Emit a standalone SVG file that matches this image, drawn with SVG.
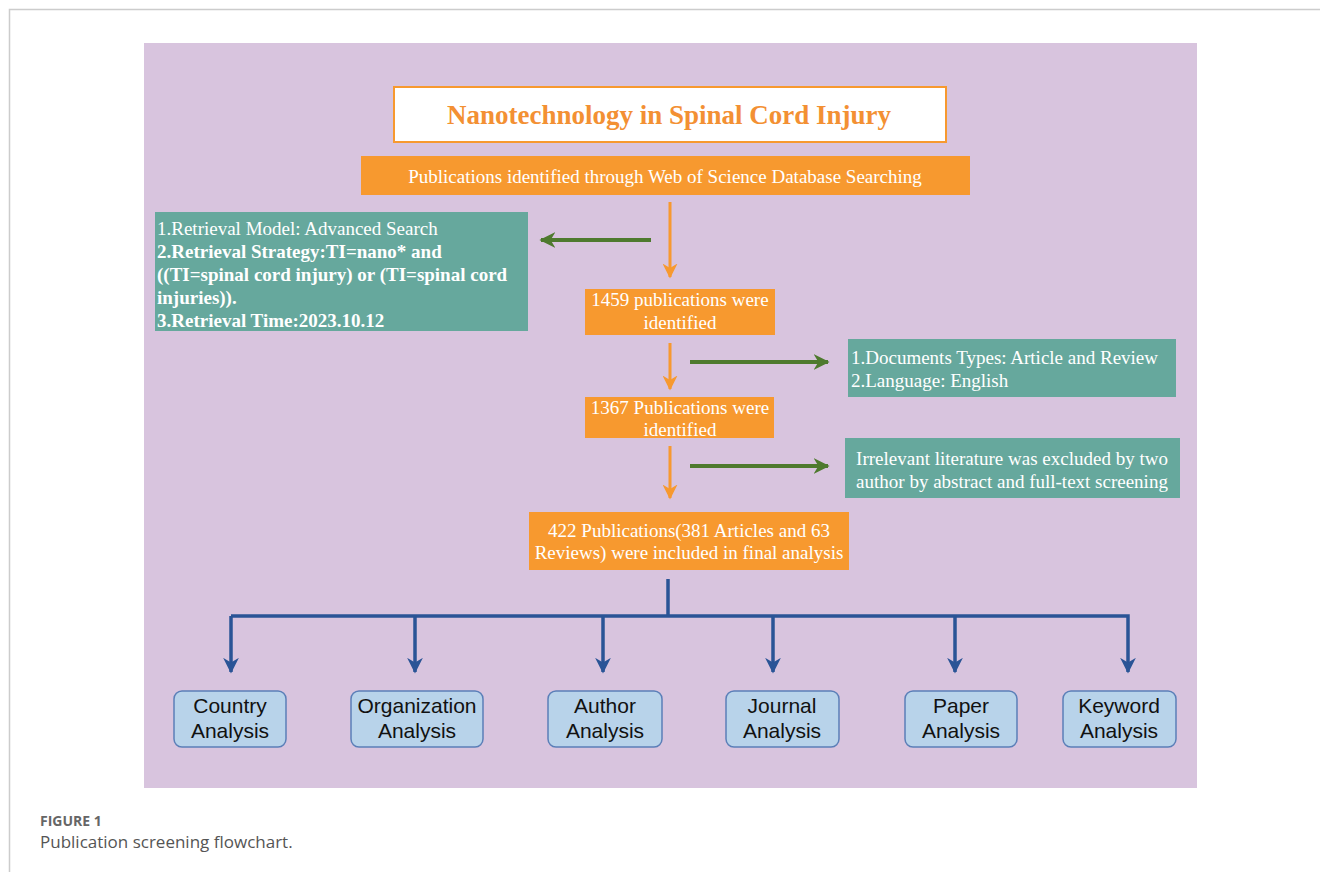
<svg xmlns="http://www.w3.org/2000/svg" width="1320" height="872" viewBox="0 0 1320 872">
<defs>
<style>
.ser{font-family:"Liberation Serif","Times New Roman",serif}
.wt{fill:#ffffff;font-size:19px}
.ob{fill:#f7992f}
.tb{fill:#66a89d}
.an{fill:#b8d3ea;stroke:#5b7fb8;stroke-width:1.5}
.at{font-family:"Liberation Sans",Arial,sans-serif;font-size:21px;fill:#111;text-anchor:middle}
.oa{stroke:#f7992f;stroke-width:3;fill:none}
.ga{stroke:#4e7a2e;stroke-width:4;fill:none}
.ba{stroke:#2a5496;stroke-width:3.5;fill:none}
</style>
<marker id="mo" viewBox="0 0 10 10" refX="9" refY="5" markerWidth="5" markerHeight="5" orient="auto" markerUnits="strokeWidth"><path d="M0,0 L10,5 L0,10 L3,5 z" fill="#f7992f"/></marker>
<marker id="mg" viewBox="0 0 10 10" refX="9" refY="5" markerWidth="4" markerHeight="4" orient="auto" markerUnits="strokeWidth"><path d="M0,0 L10,5 L0,10 L3,5 z" fill="#4e7a2e"/></marker>
<marker id="mb" viewBox="0 0 10 10" refX="9" refY="5" markerWidth="4.5" markerHeight="4.5" orient="auto" markerUnits="strokeWidth"><path d="M0,0 L10,5 L0,10 L3,5 z" fill="#2a5496"/></marker>
</defs>
<rect x="0" y="0" width="1320" height="872" fill="#ffffff"/>
<path d="M9.5,872 V9.5 H1320" fill="none" stroke="#cccccc" stroke-width="1.5"/>
<rect x="144" y="43" width="1053" height="745" fill="#d8c4de"/>

<g id="title">
<rect x="394" y="87" width="552" height="55" fill="#ffffff" stroke="#f7992f" stroke-width="2"/>
<text x="669" y="124" class="ser" font-size="27" font-weight="bold" fill="#f39033" text-anchor="middle">Nanotechnology in Spinal Cord Injury</text>
</g>
<g id="search">
<rect x="361" y="156" width="609" height="39" class="ob"/>
<text x="665" y="183" class="ser wt" text-anchor="middle">Publications identified through Web of Science Database Searching</text>
</g>
<g id="retrieval">
<rect x="155" y="212" width="373" height="119" class="tb"/>
<text class="ser wt" x="157" y="235">1.Retrieval Model: Advanced Search</text>
<text class="ser wt" x="157" y="258" font-weight="bold">2.Retrieval Strategy:TI=nano* and</text>
<text class="ser wt" x="157" y="281" font-weight="bold">((TI=spinal cord injury) or (TI=spinal cord</text>
<text class="ser wt" x="157" y="304" font-weight="bold">injuries)).</text>
<text class="ser wt" x="157" y="327" font-weight="bold">3.Retrieval Time:2023.10.12</text>
</g>
<g id="n1459">
<rect x="585" y="289" width="190" height="46" class="ob"/>
<text class="ser wt" x="680" y="306" text-anchor="middle">1459 publications were</text>
<text class="ser wt" x="680" y="329" text-anchor="middle">identified</text>
</g>
<g id="filter1">
<rect x="848" y="339" width="328" height="58" class="tb"/>
<text class="ser wt" x="851" y="364">1.Documents Types: Article and Review</text>
<text class="ser wt" x="851" y="387">2.Language: English</text>
</g>
<g id="n1367">
<rect x="585" y="397" width="189" height="41" class="ob"/>
<text class="ser wt" x="680" y="414" text-anchor="middle">1367 Publications were</text>
<text class="ser wt" x="680" y="436" text-anchor="middle">identified</text>
</g>
<g id="filter2">
<rect x="845" y="438" width="335" height="60" class="tb"/>
<text class="ser wt" x="1012" y="465" text-anchor="middle">Irrelevant literature was excluded by two</text>
<text class="ser wt" x="1012" y="488" text-anchor="middle">author by abstract and full-text screening</text>
</g>
<g id="final">
<rect x="529" y="512" width="320" height="58" class="ob"/>
<text class="ser wt" x="689" y="537" text-anchor="middle">422 Publications(381 Articles and 63</text>
<text class="ser wt" x="689" y="559" text-anchor="middle">Reviews) were included in final analysis</text>
</g>

<g id="connectors">
<line x1="670" y1="202" x2="670" y2="277" class="oa" marker-end="url(#mo)"/>
<line x1="651" y1="240" x2="541" y2="240" class="ga" marker-end="url(#mg)"/>
<line x1="670" y1="343" x2="670" y2="389" class="oa" marker-end="url(#mo)"/>
<line x1="690" y1="362" x2="828" y2="362" class="ga" marker-end="url(#mg)"/>
<line x1="670" y1="446" x2="670" y2="498" class="oa" marker-end="url(#mo)"/>
<line x1="690" y1="466" x2="828" y2="466" class="ga" marker-end="url(#mg)"/>
<line x1="668" y1="579" x2="668" y2="616" class="ba"/>
<path d="M231,616 H1128 V672" class="ba" marker-end="url(#mb)"/>
<path d="M231,616 V672" class="ba" marker-end="url(#mb)"/>
<path d="M415,616 V672" class="ba" marker-end="url(#mb)"/>
<path d="M603,616 V672" class="ba" marker-end="url(#mb)"/>
<path d="M773,616 V672" class="ba" marker-end="url(#mb)"/>
<path d="M955,616 V672" class="ba" marker-end="url(#mb)"/>
</g>

<g id="country"><rect x="174" y="691" width="112" height="56" rx="8" class="an"/><text class="at" x="230" y="713">Country</text><text class="at" x="230" y="738">Analysis</text></g>
<g id="organization"><rect x="351" y="691" width="132" height="56" rx="8" class="an"/><text class="at" x="417" y="713">Organization</text><text class="at" x="417" y="738">Analysis</text></g>
<g id="author"><rect x="548" y="691" width="114" height="56" rx="8" class="an"/><text class="at" x="605" y="713">Author</text><text class="at" x="605" y="738">Analysis</text></g>
<g id="journal"><rect x="726" y="691" width="113" height="56" rx="8" class="an"/><text class="at" x="782" y="713">Journal</text><text class="at" x="782" y="738">Analysis</text></g>
<g id="paper"><rect x="905" y="691" width="112" height="56" rx="8" class="an"/><text class="at" x="961" y="713">Paper</text><text class="at" x="961" y="738">Analysis</text></g>
<g id="keyword"><rect x="1063" y="691" width="113" height="56" rx="8" class="an"/><text class="at" x="1119" y="713">Keyword</text><text class="at" x="1119" y="738">Analysis</text></g>

<g id="caption">
<text x="40" y="826" font-family="'Open Sans','Noto Sans',sans-serif" font-size="14" font-weight="bold" fill="#666666">FIGURE 1</text>
<text x="40" y="848" font-family="'Open Sans','Noto Sans',sans-serif" font-size="17" fill="#555555">Publication screening flowchart.</text>
</g>
</svg>
